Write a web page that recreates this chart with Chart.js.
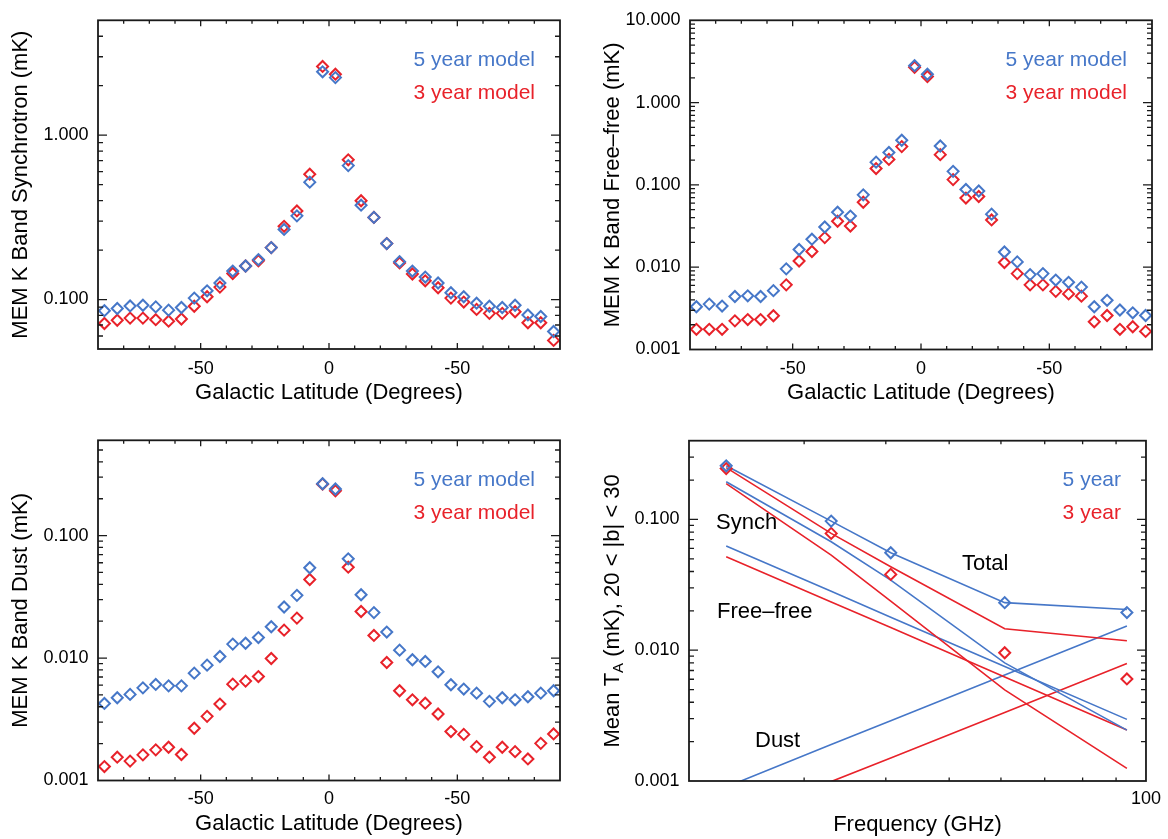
<!DOCTYPE html>
<html>
<head>
<meta charset="utf-8">
<script src="https://cdn.jsdelivr.net/npm/chart.js@4/dist/chart.umd.min.js"></script>
<style>
  body { margin: 0; background: #fff; }
  #wrap { position: relative; width: 1168px; height: 839px; }
  canvas { position: absolute; }
</style>
</head>
<body>
<div id="wrap">
  <canvas id="synch" width="584" height="420" style="left:0;top:0"></canvas>
  <canvas id="freefree" width="584" height="420" style="left:584px;top:0"></canvas>
  <canvas id="dust" width="584" height="419" style="left:0;top:420px"></canvas>
  <canvas id="spectrum" width="584" height="419" style="left:584px;top:420px"></canvas>
</div>
<script>
// galactic latitude bins (degrees)
const latitude = [-87.5, -82.5, -77.5, -72.5, -67.5, -62.5, -57.5, -52.5, -47.5, -42.5, -37.5, -32.5,
  -27.5, -22.5, -17.5, -12.5, -7.5, -2.5, 2.5, 7.5, 12.5, 17.5, 22.5, 27.5,
  32.5, 37.5, 42.5, 47.5, 52.5, 57.5, 62.5, 67.5, 72.5, 77.5, 82.5, 87.5];
const latTickValues = [-50, 0, 50];
const latTickLabels = ['-50', '0', '-50'];

// MEM K band synchrotron (mK)
const synch5 = [0.0855, 0.0882, 0.0914, 0.0923, 0.0902, 0.0862, 0.0894, 0.102, 0.113, 0.126, 0.149, 0.160,
  0.175, 0.207, 0.267, 0.323, 0.518, 2.43, 2.24, 0.653, 0.375, 0.316, 0.219, 0.170,
  0.149, 0.137, 0.126, 0.110, 0.104, 0.095, 0.091, 0.0894, 0.0923, 0.0806, 0.0788, 0.0639];
const synch3 = [0.0715, 0.0748, 0.0771, 0.0771, 0.0754, 0.0738, 0.0761, 0.091, 0.104, 0.119, 0.144, 0.160,
  0.172, 0.207, 0.279, 0.346, 0.579, 2.62, 2.35, 0.708, 0.399, 0.316, 0.219, 0.167,
  0.143, 0.130, 0.118, 0.102, 0.0965, 0.0871, 0.0824, 0.0824, 0.0843, 0.0722, 0.0722, 0.0564];

// MEM K band free-free (mK)
const ff5 = [0.00331, 0.00356, 0.00337, 0.00441, 0.00449, 0.00441, 0.00519, 0.00955, 0.0164, 0.0219, 0.0308, 0.0466,
  0.0418, 0.0757, 0.189, 0.248, 0.349, 2.81, 2.21, 0.297, 0.146, 0.0881, 0.0843, 0.0441,
  0.0153, 0.0116, 0.00813, 0.00836, 0.00698, 0.00655, 0.00573, 0.00331, 0.00396, 0.00302, 0.00279, 0.00259];
const ff3 = [0.00176, 0.00176, 0.00176, 0.00223, 0.00231, 0.00231, 0.00257, 0.00610, 0.0119, 0.0155, 0.0229, 0.0362,
  0.0316, 0.0615, 0.158, 0.204, 0.292, 2.69, 2.07, 0.233, 0.116, 0.0692, 0.0723, 0.0375,
  0.0114, 0.00836, 0.00610, 0.00610, 0.00509, 0.00474, 0.00445, 0.00217, 0.00259, 0.00176, 0.00189, 0.00166];

// MEM K band dust (mK)
const dust5 = [0.00426, 0.00474, 0.00505, 0.00571, 0.00609, 0.00593, 0.00593, 0.00753, 0.00875, 0.0103, 0.0130, 0.0132,
  0.0147, 0.0180, 0.0261, 0.0325, 0.0546, 0.265, 0.240, 0.0646, 0.0329, 0.0235, 0.0163, 0.0116,
  0.00969, 0.00938, 0.00772, 0.00605, 0.00558, 0.00517, 0.00443, 0.00474, 0.00456, 0.00483, 0.00517, 0.00541];
const dust3 = [0.00130, 0.00155, 0.00144, 0.00162, 0.00178, 0.00187, 0.00163, 0.00267, 0.00334, 0.00421, 0.00612, 0.00648,
  0.00706, 0.00991, 0.0169, 0.0212, 0.0438, 0.263, 0.232, 0.0552, 0.0240, 0.0153, 0.00919, 0.00541,
  0.00456, 0.00428, 0.00349, 0.00251, 0.00238, 0.00189, 0.00155, 0.00187, 0.00172, 0.00150, 0.00201, 0.00240];

// mean antenna temperature, 20 < |b| < 30, per WMAP band (K, Ka, Q, V, W)
const freqs = [22.8, 33.0, 40.7, 60.8, 93.5];
const freqTickValues = [100];
const freqTickLabels = ['100'];
const total5 = [0.257, 0.0971, 0.0556, 0.0231, 0.0205];
const total3 = [0.249, 0.0782, 0.0435, 0.0146, 0.0118];
const measured5 = [0.257, 0.0971, 0.0556, 0.0231, 0.0194];
const measured3 = [0.245, 0.0782, 0.0380, 0.00957, 0.00603];
const synchSpec5 = [0.194, 0.0675, 0.0344, 0.0080, 0.00245];
const synchSpec3 = [0.188, 0.0534, 0.0237, 0.00497, 0.00125];
const ffSpec5 = [0.0626, 0.0282, 0.0179, 0.00752, 0.00296];
const ffSpec3 = [0.0519, 0.0234, 0.0149, 0.00623, 0.00245];
const dustSpec5 = [0.00090, 0.00190, 0.00289, 0.00646, 0.0153];
const dustSpec3 = [0.00047, 0.00099, 0.00150, 0.00334, 0.0079];

const BLUE = '#4677c8';
const RED = '#e8222a';
const FONT = "'Liberation Sans', Arial, Helvetica, sans-serif";

Chart.defaults.font.family = FONT;
Chart.defaults.font.size = 18;
Chart.defaults.color = '#000';

function pairs(xs, ys) {
  return xs.map((x, i) => ({ x: x, y: ys[i] }));
}

function isDecade(v) {
  const l = Math.log10(v);
  return Math.abs(l - Math.round(l)) < 1e-9;
}

// tick positions for the inward tick marks
function tickList(scale) {
  const out = [];
  const min = scale.min, max = scale.max;
  if (scale.type === 'logarithmic') {
    for (let e = Math.floor(Math.log10(min)); e <= Math.ceil(Math.log10(max)); e++) {
      for (let k = 1; k <= 9; k++) {
        const v = k * Math.pow(10, e);
        if (v > min * 1.0001 && v < max * 0.9999) out.push([v, k === 1]);
      }
    }
  } else {
    for (let v = Math.ceil(min / 10) * 10; v <= max; v += 10) {
      if (v > min && v < max) out.push([v, latTickValues.includes(v)]);
    }
  }
  return out;
}

const frame = {
  id: 'frame',
  afterDatasetsDraw(chart) {
    const { ctx, chartArea: a, scales: { x, y } } = chart;
    ctx.save();
    ctx.strokeStyle = '#1a1a1a';
    ctx.lineWidth = 1.3;
    ctx.beginPath();
    for (const [v, major] of tickList(x)) {
      const p = x.getPixelForValue(v);
      const len = major ? 6 : 3.5;
      ctx.moveTo(p, a.bottom); ctx.lineTo(p, a.bottom - len);
      ctx.moveTo(p, a.top); ctx.lineTo(p, a.top + len);
    }
    for (const [v, major] of tickList(y)) {
      const p = y.getPixelForValue(v);
      const len = major ? 9 : 5;
      ctx.moveTo(a.left, p); ctx.lineTo(a.left + len, p);
      ctx.moveTo(a.right, p); ctx.lineTo(a.right - len, p);
    }
    ctx.stroke();
    ctx.lineWidth = 1.8;
    ctx.strokeRect(a.left, a.top, a.right - a.left, a.bottom - a.top);
    ctx.restore();
  }
};

function decor(spec) {
  return {
    id: 'decor',
    afterDraw(chart) {
      const { ctx, chartArea: a } = chart;
      ctx.save();
      ctx.textBaseline = 'middle';
      // legend text
      ctx.font = '21px ' + FONT;
      ctx.textAlign = 'right';
      spec.legend.forEach((t, i) => {
        ctx.fillStyle = t.color;
        ctx.fillText(t.text, a.right - 25, a.top + 40 + i * 33);
      });
      // notes inside the plot
      ctx.font = '22px ' + FONT;
      ctx.textAlign = 'left';
      ctx.fillStyle = '#000';
      (spec.notes || []).forEach(n => ctx.fillText(n.text, a.left + n.dx, a.top + n.dy));
      // x title
      ctx.textAlign = 'center';
      ctx.fillText(spec.xTitle, (a.left + a.right) / 2, spec.xTitleY);
      // y title (rotated, with optional subscript parts)
      ctx.translate(spec.yTitleX, (a.top + a.bottom) / 2);
      ctx.rotate(-Math.PI / 2);
      const parts = spec.yTitle;
      const fontFor = p => (p.sub ? '15px ' : '22px ') + FONT;
      let total = 0;
      parts.forEach(p => { ctx.font = fontFor(p); total += ctx.measureText(p.text).width; });
      let cx = -total / 2;
      ctx.textAlign = 'left';
      parts.forEach(p => {
        ctx.font = fontFor(p);
        ctx.fillText(p.text, cx, p.sub ? 6 : 0);
        cx += ctx.measureText(p.text).width;
      });
      ctx.restore();
    }
  };
}

function logTickLabel(v) {
  return isDecade(v) ? Number(v).toFixed(3) : '';
}

function diamonds(label, data, color) {
  return {
    label: label, data: data, showLine: false,
    pointStyle: 'rectRot', pointRadius: 5.5, pointHoverRadius: 5.5,
    pointBorderWidth: 2, pointBorderColor: color, pointBackgroundColor: 'rgba(0,0,0,0)'
  };
}

function line(label, data, color) {
  return {
    label: label, data: data, showLine: true, borderColor: color, borderWidth: 1.6,
    pointRadius: 0, fill: false, tension: 0
  };
}

function makeChart(id, datasets, xScale, yScale, box, spec) {
  return new Chart(document.getElementById(id), {
    type: 'scatter',
    data: { datasets: datasets },
    options: {
      responsive: false,
      animation: false,
      events: [],
      layout: { padding: { left: 0, right: box.pr, top: box.pt, bottom: 0 } },
      plugins: { legend: { display: false }, tooltip: { enabled: false } },
      scales: {
        x: Object.assign({
          grid: { display: false, drawTicks: false },
          border: { display: false },
          afterFit: s => { s.height = box.xh; }
        }, xScale),
        y: Object.assign({
          grid: { display: false, drawTicks: false },
          border: { display: false },
          afterFit: s => { s.width = box.yw; }
        }, yScale)
      }
    },
    plugins: [frame, decor(spec)]
  });
}

function latAxis(pad) {
  return {
    type: 'linear', min: -90, max: 90,
    ticks: {
      stepSize: 10, autoSkip: false, maxRotation: 0, padding: pad,
      callback: v => {
        const i = latTickValues.indexOf(v);
        return i >= 0 ? latTickLabels[i] : '';
      }
    }
  };
}

function logAxis(min, max) {
  return {
    type: 'logarithmic', min: min, max: max,
    ticks: { autoSkip: false, padding: 9.5, callback: v => logTickLabel(v) }
  };
}

const legendModel = [{ text: '5 year model', color: BLUE }, { text: '3 year model', color: RED }];

makeChart('synch',
  [diamonds('5 year model', pairs(latitude, synch5), BLUE), diamonds('3 year model', pairs(latitude, synch3), RED)],
  latAxis(9), logAxis(0.05, 5),
  { yw: 98, pr: 24, pt: 9, xh: 71 },
  { legend: legendModel, xTitle: 'Galactic Latitude (Degrees)', xTitleY: 393, yTitleX: 21,
    yTitle: [{ text: 'MEM K Band Synchrotron (mK)' }] });

makeChart('freefree',
  [diamonds('5 year model', pairs(latitude, ff5), BLUE), diamonds('3 year model', pairs(latitude, ff3), RED)],
  latAxis(9), logAxis(0.001, 10),
  { yw: 106, pr: 16, pt: 10, xh: 70.5 },
  { legend: legendModel, xTitle: 'Galactic Latitude (Degrees)', xTitleY: 393, yTitleX: 29,
    yTitle: [{ text: 'MEM K Band Free\u2013free (mK)' }] });

makeChart('dust',
  [diamonds('5 year model', pairs(latitude, dust5), BLUE), diamonds('3 year model', pairs(latitude, dust3), RED)],
  latAxis(8), logAxis(0.001, 0.6),
  { yw: 98, pr: 24, pt: 20, xh: 58.5 },
  { legend: legendModel, xTitle: 'Galactic Latitude (Degrees)', xTitleY: 404, yTitleX: 21,
    yTitle: [{ text: 'MEM K Band Dust (mK)' }] });

makeChart('spectrum',
  [
    diamonds('5 year', pairs(freqs, measured5), BLUE),
    diamonds('3 year', pairs(freqs, measured3), RED),
    line('Total 5', pairs(freqs, total5), BLUE),
    line('Total 3', pairs(freqs, total3), RED),
    line('Synch 5', pairs(freqs, synchSpec5), BLUE),
    line('Synch 3', pairs(freqs, synchSpec3), RED),
    line('Free-free 5', pairs(freqs, ffSpec5), BLUE),
    line('Free-free 3', pairs(freqs, ffSpec3), RED),
    line('Dust 5', pairs(freqs, dustSpec5), BLUE),
    line('Dust 3', pairs(freqs, dustSpec3), RED)
  ],
  {
    type: 'logarithmic', min: 20, max: 100,
    ticks: {
      autoSkip: false, maxRotation: 0, padding: 7,
      callback: v => {
        const i = freqTickValues.indexOf(v);
        return i >= 0 ? freqTickLabels[i] : '';
      }
    }
  },
  logAxis(0.001, 0.4),
  { yw: 105, pr: 22, pt: 20.7, xh: 58 },
  {
    legend: [{ text: '5 year', color: BLUE }, { text: '3 year', color: RED }],
    notes: [
      { text: 'Synch', dx: 27, dy: 82 },
      { text: 'Total', dx: 273, dy: 123 },
      { text: 'Free\u2013free', dx: 28, dy: 171 },
      { text: 'Dust', dx: 66, dy: 300 }
    ],
    xTitle: 'Frequency (GHz)', xTitleY: 405, yTitleX: 29,
    yTitle: [{ text: 'Mean T' }, { text: 'A', sub: true }, { text: ' (mK), 20 < |b| < 30' }]
  });
</script>
</body>
</html>
